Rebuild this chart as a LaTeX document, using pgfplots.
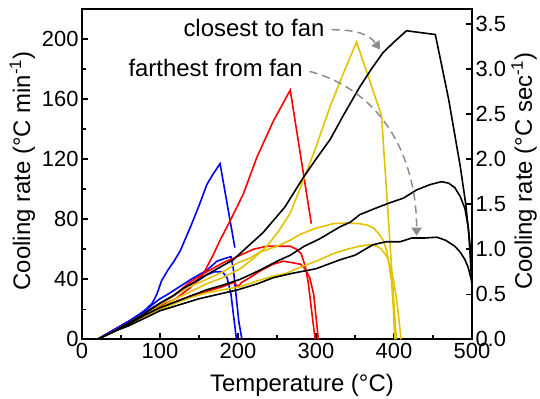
\documentclass[border=0pt]{standalone}
\usepackage{fontspec}
\setmainfont{Liberation Sans}
\usepackage{pgfplots}
\pgfplotsset{compat=1.18}
\usetikzlibrary{arrows.meta}

\definecolor{cblue}{RGB}{0,0,255}
\definecolor{cred}{RGB}{255,0,0}
\definecolor{cyel}{RGB}{225,195,0}
\definecolor{arrowgray}{RGB}{140,140,140}

\pgfplotsset{
  curve/.style={line width=1.6bp, no marks},
  frame/.style={
    scale only axis, width=390bp, height=330.3bp,
    at={(82bp,59.7bp)}, anchor=south west,
    xmin=0, xmax=500,
    axis line style={line width=1.8bp},
    tick align=inside, major tick length=6bp, minor tick length=4bp,
    tick style={line width=1.5bp, black},
    tick label style={font=\fontsize{22}{24}\selectfont},
    label style={font=\fontsize{24}{28}\selectfont},
    /pgf/number format/assume math mode=true,
  },
}

\begin{document}
\begin{tikzpicture}
\path[use as bounding box] (0,0) rectangle (540bp,399bp);

% Cooling rate in degC per minute against temperature
\begin{axis}[frame,
  ymin=0, ymax=220,
  xtick={0,100,...,500}, minor xtick={50,150,...,450},
  ytick={0,40,...,200}, minor ytick={20,60,...,180},
  xtick pos=left, ytick pos=left,
  xlabel={Temperature (°C)},
  ylabel={Cooling rate (°C min\textsuperscript{-1})},
  xlabel style={at={(axis description cs:0.564,-0.1586)}, anchor=base},
  ylabel style={at={(axis description cs:-0.1333,0.5095)}, anchor=base},
]
% blue runs
\addplot[curve, cblue] coordinates {(20,0)(30,3)(40,6)(50,9)(60,12)(70,15)(80,19)(90,24)(96,30)(102,39)(110,46)(118,52)(126,59)(140,76)(150,89)(160,103)(168,110)(177,117)(196,61)};
\addplot[curve, cblue] coordinates {(20,0)(40,6)(60,12)(80,19)(90,23)(100,27)(110,30)(125,35)(140,40)(160,46)(173,52)(184,54)(191,55)(194,47)(197,32)(201,12)(205,0)};
\addplot[curve, cblue] coordinates {(20,0)(40,6)(60,12)(80,18)(100,24)(120,30)(140,36)(160,43)(170,45)(180,45)(186,41)(191,30)(194,17)(198,0)};
% red runs
\addplot[curve, cred] coordinates {(20,0)(40,5)(60,11)(80,16)(100,22)(120,27)(138,34)(155,43)(168,56)(177,66)(190,79)(207,97)(224,121)(245,145)(267,166)(294,77)};
\addplot[curve, cred] coordinates {(20,0)(40,5)(60,11)(80,17)(100,23)(120,30)(138,38)(160,45)(181,51)(203,56)(220,60)(237,62)(255,62)(267,62)(275,60)(281,57)(286,49)(290,38)(293,25)(296,12)(299,0)};
\addplot[curve, cred] coordinates {(20,0)(40,5)(60,10)(80,15)(100,20)(120,25)(140,29)(160,32)(180,35)(195,38)(200,35)(205,38)(215,41)(230,46)(245,50)(258,52)(270,51)(280,50)(286,47)(292,41)(297,30)(300,15)(303,0)};
% yellow runs
\addplot[curve, cyel] coordinates {(20,0)(40,5)(60,10)(80,16)(100,21)(120,27)(140,32)(160,37)(180,41)(203,47)(220,54)(237,62)(252,72)(267,84)(280,101)(300,128)(318,155)(335,177)(352,198)(384,149)(403,0)};
\addplot[curve, cyel] coordinates {(20,0)(40,5)(60,11)(80,17)(100,23)(120,30)(138,35)(160,40)(181,45)(200,51)(215,54)(228,58)(250,62)(267,66)(280,70)(300,74)(322,77)(340,77.5)(356,77)(366,76)(374,74)(381,70)(386,66)(390,60)(393,52)(397,38)(399,22)(401,0)};
\addplot[curve, cyel] coordinates {(20,0)(40,5)(60,10)(80,15)(100,20)(120,24)(140,28)(160,31)(180,33)(203,35)(225,39)(245,42)(262,44)(280,48)(300,52)(322,57)(340,60)(356,62)(369,63)(378,62)(384,60)(391,55)(396,47)(400,38)(404,24)(407,10)(409,0)};
% black runs
\addplot[curve, black] coordinates {(20,0)(40,5)(60,11)(80,17)(100,24)(117,29)(130,34)(150,40)(170,46)(194,53)(215,63)(232,71)(260,88)(284,108)(300,120)(318,133)(336,150)(356,168)(371,180)(386,191)(400,198)(416,205.5)(453,203)(470,160)(485,115)(492,90)(496,70)(500,35)};
\addplot[curve, black] coordinates {(20,0)(40,5)(60,10)(80,16)(100,21)(120,25)(140,29)(160,33)(180,36)(203,40)(228,46)(250,52)(267,56)(285,62)(305,67)(331,75)(344,78)(356,83)(375,87)(395,91)(412,94)(429,99.5)(446,103)(461,105)(470,104)(478,101)(485,95)(491,87)(495,75)(498,60)(500,42)};
\addplot[curve, black] coordinates {(20,0)(40,5)(60,9)(80,14)(100,19)(125,23)(150,27)(175,30)(200,33)(225,37)(245,41)(270,44)(300,47)(331,53)(350,56)(373,63)(390,65)(408,65)(423,67.5)(440,67.5)(455,68)(466,66)(478,62)(485,58)(491,53)(495,48)(500,38)};

% position annotations
\node[anchor=base west, inner sep=0pt, font=\fontsize{24}{28}\selectfont] at (axis cs:129.9,201.7) {closest to fan};
\node[anchor=base west, inner sep=0pt, font=\fontsize{24}{28}\selectfont] at (axis cs:59.4,175.1) {farthest from fan};
\draw[arrowgray, line width=1.5bp, dash pattern=on 8bp off 5bp, -{Triangle[length=8bp,width=10bp]}]
  (axis cs:320,206.2) to[out=0,in=125] (axis cs:382,193);
\draw[arrowgray, line width=1.5bp, dash pattern=on 8bp off 5bp, -{Triangle[length=8bp,width=10bp]}]
  (axis cs:292,178.4) to[out=-15,in=90] (axis cs:429,69);
\end{axis}

% same data in degC per second on the right
\begin{axis}[frame,
  ymin=0, ymax=3.6667,
  axis x line=none, axis y line*=right,
  ytick={0,0.5,1,1.5,2,2.5,3,3.5},
  yticklabel style={/pgf/number format/.cd, fixed, fixed zerofill, precision=1},
  ylabel={Cooling rate (°C sec\textsuperscript{-1})},
  ylabel style={at={(axis description cs:1.1538,0.5095)}, anchor=base},
]
\end{axis}
\end{tikzpicture}
\end{document}
